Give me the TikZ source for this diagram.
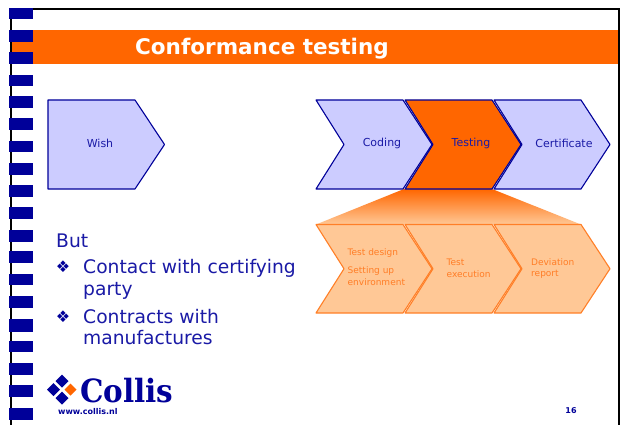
\documentclass[tikz,border=0pt]{standalone}
\usepackage{fontspec}
\setmainfont{DejaVu Sans}
\newfontfamily\logofont{DejaVu Serif}
\usetikzlibrary{shadings}
\definecolor{navy}{HTML}{000099}
\definecolor{inkb}{HTML}{1A1AA6}
\definecolor{peri}{HTML}{CCCCFF}
\definecolor{orng}{HTML}{FF6600}
\definecolor{pale}{HTML}{FFC896}
\definecolor{palel}{HTML}{FF7F27}
\tikzset{
 x=1pt,y=-1pt,
 bluearrow/.style={draw=navy,fill=peri,line width=1.1pt,line join=round},
 hotarrow/.style={draw=navy,fill=orng,line width=1.1pt,line join=round},
 palearrow/.style={draw=palel,fill=pale,line width=1.1pt,line join=round},
 lbl/.style={inner sep=0pt,font=\fontsize{11}{13}\selectfont,text=inkb},
 sublbl/.style={inner sep=0pt,font=\fontsize{9}{11.5}\selectfont,text=orng!85!white,align=left,anchor=west},
 body/.style={inner sep=0pt,anchor=base west,font=\fontsize{18.7}{22}\selectfont,text=inkb},
 bul/.style={inner sep=0pt,anchor=base,font=\fontsize{16}{18}\selectfont,text=navy},
 stripe/.style={fill=navy,draw=none},
 gem/.style={fill=navy,draw=none},
}
\newcommand{\chev}[4]{% style, left x, top y, bottom y
 \path[#1] (#2,#3) -- ++(87,0) -- ++(29,{(#4-#3)/2}) -- ++(-29,{(#4-#3)/2}) -- ++(-87,0) -- ++(28,{-(#4-#3)/2}) -- cycle;}
\begin{document}
\begin{tikzpicture}
\useasboundingbox (0,0) rectangle (621,425);
\fill[white] (0,0) rectangle (621,425);
% title bar
\fill[orng] (12,30) rectangle (619,64);
% frame
\draw[black,line width=2pt] (11,425) -- (11,9.5) -- (618.5,9.5) -- (618.5,425);
% stripes
\foreach \a/\b in {8/19,30/42,52/64,75/86,96/108,118/130,141/152,163/175,185/197,207/219,230/242,251/263,274/285,296/308,319/332,341/352,363/375,385/397,408/420}
  \fill[stripe] (9,\a) rectangle (33,\b);
\node[inner sep=0pt,text=white,font=\fontsize{21.5}{24}\bfseries\selectfont] (title) at (262,48.5) {Conformance testing};
% wish
\path[bluearrow] (48,100) -- (135,100) -- (164.5,144.5) -- (135,189) -- (48,189) -- cycle;
\node[lbl] (wish) at (100,143) {Wish};
% funnel
\shade[top color=orng,bottom color=pale] (404,189) -- (492,189) -- (581,224.5) -- (316,224.5) -- cycle;
% top chain
\chev{bluearrow}{316}{100}{189}
\chev{bluearrow}{494}{100}{189}
\chev{hotarrow}{405}{100}{189}
\node[lbl] (coding) at (382,143) {Coding};
\node[lbl] (testing) at (471,143) {Testing};
\node[lbl] (cert) at (564,143) {Certificate};
% lower chain
\chev{palearrow}{316}{224.5}{313}
\chev{palearrow}{405}{224.5}{313}
\chev{palearrow}{494}{224.5}{313}
\node[sublbl] (design) at (347.5,253.5) {Test design};
\node[sublbl] (setup) at (347.5,276) {Setting up\\environment};
\node[sublbl] (exec) at (446.5,268.5) {Test\\execution};
\node[sublbl] (dev) at (531,268.5) {Deviation\\report};
% body text
\node[body] (but) at (56,247) {But};
\node[bul] (b1) at (63,272) {❖};
\node[body] (c1) at (83,273) {Contact with certifying};
\node[body] (c1b) at (83,295) {party};
\node[bul] (b2) at (63,322) {❖};
\node[body] (c2) at (83,323) {Contracts with};
\node[body] (c2b) at (83,344) {manufactures};
% logo
\foreach \x/\y in {62/381,62/398,53.5/389.5}
  \fill[gem] (\x,\y-6.5) -- (\x+6.5,\y) -- (\x,\y+6.5) -- (\x-6.5,\y) -- cycle;
\fill[orng] (70.5,383.5) -- (76.5,389.5) -- (70.5,395.5) -- (64.5,389.5) -- cycle;
\node[inner sep=0pt,anchor=base west,xscale=.92,text=navy,font=\logofont\fontsize{32}{36}\bfseries\selectfont] (logo) at (80,402) {Collis};
\node[inner sep=0pt,anchor=west,text=navy,font=\fontsize{8}{9}\bfseries\selectfont] (url) at (58,411.5) {www.collis.nl};
\node[inner sep=0pt,text=navy,font=\fontsize{8}{9}\bfseries\selectfont] (page) at (571,411) {16};
\end{tikzpicture}
\end{document}
